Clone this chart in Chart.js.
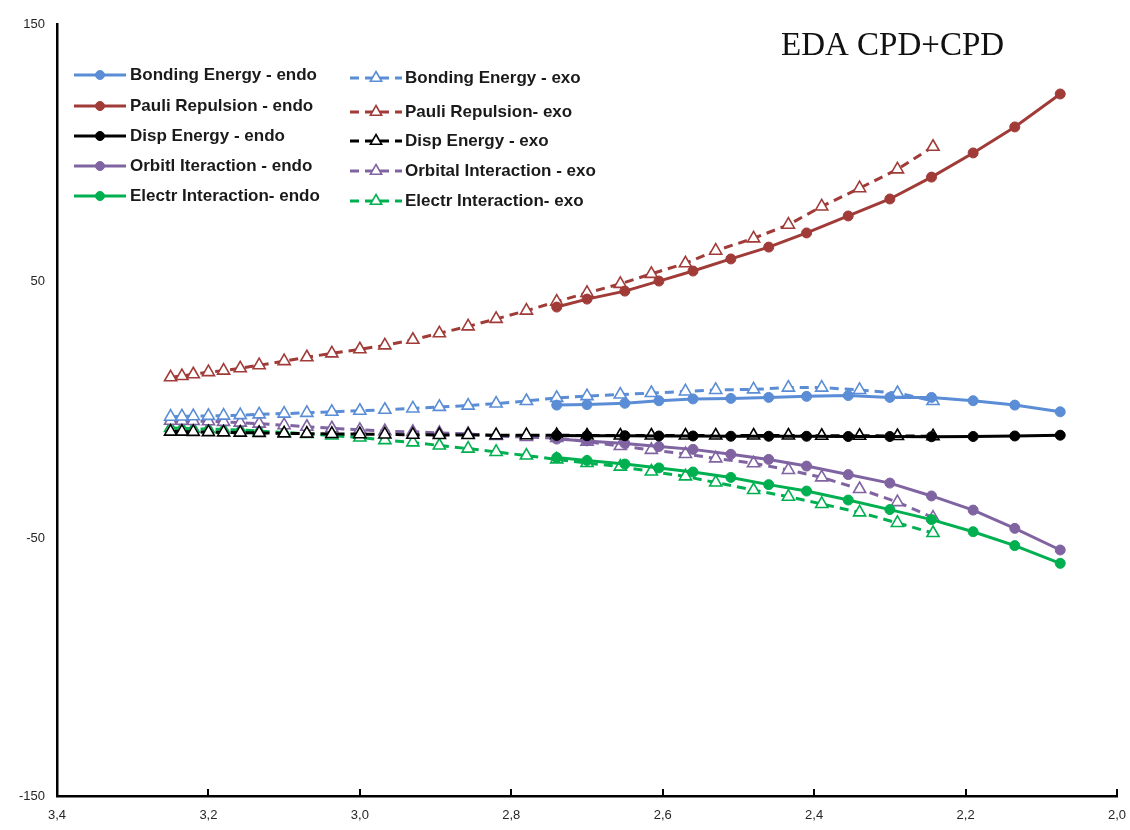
<!DOCTYPE html>
<html>
<head>
<meta charset="utf-8">
<script src="https://cdn.jsdelivr.net/npm/chart.js@4.4.1/dist/chart.umd.min.js"></script>
<style>
  html, body { margin: 0; padding: 0; background: #ffffff; }
  #wrap { width: 1130px; height: 830px; position: relative; }
</style>
</head>
<body>
<div id="wrap"><canvas id="eda" width="1130" height="830"></canvas></div>
<script>
// Interfragment distance (Å) for each computed geometry
const endoDistance = [2.74, 2.70, 2.65, 2.605, 2.56, 2.51, 2.46, 2.41, 2.355, 2.30, 2.245, 2.19, 2.135, 2.075];
const exoDistance = [3.25, 3.235, 3.22, 3.20, 3.18, 3.158, 3.133, 3.10, 3.07, 3.037, 3.00, 2.967, 2.93, 2.895,
                     2.857, 2.82, 2.78, 2.74, 2.70, 2.656, 2.615, 2.57, 2.53, 2.48, 2.434, 2.39, 2.34, 2.29, 2.243];

// Energy terms, endo approach (kcal/mol)
const bondingEndo = [1.9, 2.1, 2.6, 3.6, 4.3, 4.5, 4.9, 5.3, 5.6, 4.9, 4.9, 3.6, 1.9, -0.7];
const pauliEndo   = [40.0, 43.1, 46.2, 50.1, 54.0, 58.7, 63.3, 68.8, 75.4, 82.0, 90.5, 99.9, 110.0, 122.8];
const dispEndo    = [-9.9, -10.0, -10.0, -10.1, -10.1, -10.2, -10.2, -10.2, -10.3, -10.3, -10.4, -10.3, -10.1, -9.8];
const orbEndo     = [-11.3, -12.0, -13.0, -14.2, -15.3, -17.2, -19.2, -21.8, -25.1, -28.4, -33.4, -38.9, -46.0, -54.4];
const elecEndo    = [-18.5, -19.6, -21.0, -22.5, -24.1, -26.2, -29.0, -31.5, -35.0, -38.7, -42.6, -47.3, -52.7, -59.6];

// Energy terms, exo approach (kcal/mol)
const bondingExo = [-2.6, -2.5, -2.4, -2.3, -2.2, -2.0, -1.7, -1.4, -1.1, -0.7, -0.3, 0.1, 0.6, 1.2,
                    1.7, 2.5, 3.5, 4.7, 5.4, 6.0, 6.6, 7.2, 7.8, 8.0, 8.7, 8.7, 7.8, 6.6, 3.5];
const pauliExo   = [12.7, 13.2, 13.9, 14.7, 15.3, 16.2, 17.4, 19.0, 20.5, 22.0, 23.6, 25.1, 27.3, 29.8,
                    32.5, 35.4, 38.6, 42.1, 45.5, 49.0, 52.9, 57.0, 61.9, 66.7, 72.0, 79.1, 86.2, 93.5, 102.3];
const dispExo    = [-8.4, -8.4, -8.5, -8.6, -8.7, -8.8, -8.9, -9.1, -9.2, -9.3, -9.4, -9.5, -9.6, -9.7,
                    -9.7, -9.8, -9.8, -9.8, -9.9, -9.9, -9.9, -9.9, -9.9, -9.9, -9.9, -10.0, -10.0, -10.1, -10.2];
const orbExo     = [-4.2, -4.2, -4.3, -4.4, -4.6, -4.9, -5.3, -5.9, -6.5, -7.1, -7.7, -8.2, -8.5, -8.9,
                    -9.3, -10.1, -10.5, -10.9, -12.3, -14.0, -15.5, -17.1, -18.8, -20.7, -23.3, -26.2, -30.7, -35.8, -41.8];
const elecExo    = [-7.0, -7.1, -7.3, -7.4, -7.6, -7.8, -8.2, -8.7, -9.3, -9.9, -10.7, -11.7, -12.6, -13.8,
                    -15.0, -16.3, -17.7, -19.2, -20.6, -22.0, -23.9, -25.8, -28.2, -31.1, -33.7, -36.5, -39.8, -43.9, -47.8];

const endoLabels = ['Bonding Energy - endo', 'Pauli Repulsion - endo', 'Disp Energy - endo',
                    'Orbitl Iteraction - endo', 'Electr Interaction- endo'];
const exoLabels  = ['Bonding Energy - exo', 'Pauli Repulsion- exo', 'Disp Energy - exo',
                    'Orbital Interaction - exo', 'Electr Interaction- exo'];

const xTickValues = [3.4, 3.2, 3.0, 2.8, 2.6, 2.4, 2.2, 2.0];
const yTickValues = [150, 50, -50, -150];
const chartTitle = 'EDA CPD+CPD';

const seriesColors = ['#5A8DD6', '#A03B38', '#000000', '#8064A2', '#00B050'];

function pairs(xs, ys) { return xs.map((x, i) => ({ x: x, y: ys[i] })); }

const endoSeries = [bondingEndo, pauliEndo, dispEndo, orbEndo, elecEndo];
const exoSeries  = [bondingExo, pauliExo, dispExo, orbExo, elecExo];

const datasets = [];
endoSeries.forEach((vals, i) => {
  datasets.push({
    label: endoLabels[i],
    data: pairs(endoDistance, vals),
    borderColor: seriesColors[i],
    backgroundColor: seriesColors[i],
    pointBackgroundColor: seriesColors[i],
    pointBorderColor: seriesColors[i],
    borderWidth: 3,
    pointStyle: 'circle',
    pointRadius: 5,
    pointBorderWidth: 1,
    tension: 0,
    fill: false,
    legendColumn: 0,
    legendRow: i
  });
});
exoSeries.forEach((vals, i) => {
  datasets.push({
    label: exoLabels[i],
    data: pairs(exoDistance, vals),
    borderColor: seriesColors[i],
    backgroundColor: '#ffffff',
    pointBackgroundColor: '#ffffff',
    pointBorderColor: seriesColors[i],
    borderWidth: 3,
    borderDash: [9, 6],
    pointStyle: 'triangle',
    pointRadius: 7,
    pointBorderWidth: 1.6,
    tension: 0,
    fill: false,
    legendColumn: 1,
    legendRow: i
  });
});

// Two-column legend placed in the upper-left of the plot
const legendLayout = {
  columns: [
    { lineFrom: 74, lineTo: 126, textX: 130, rows: [75, 106, 136, 166, 196] },
    { lineFrom: 350, lineTo: 402, textX: 405, rows: [78, 112, 141, 171, 201] }
  ]
};

const twoColumnLegend = {
  id: 'twoColumnLegend',
  afterDraw(chart) {
    const ctx = chart.ctx;
    chart.data.datasets.forEach(ds => {
      const col = legendLayout.columns[ds.legendColumn];
      const y = col.rows[ds.legendRow];
      ctx.save();
      ctx.strokeStyle = ds.borderColor;
      ctx.lineWidth = ds.borderWidth;
      ctx.setLineDash(ds.borderDash || []);
      ctx.beginPath();
      ctx.moveTo(col.lineFrom, y);
      ctx.lineTo(col.lineTo, y);
      ctx.stroke();
      ctx.setLineDash([]);
      ctx.fillStyle = ds.pointBackgroundColor;
      ctx.strokeStyle = ds.pointBorderColor;
      ctx.lineWidth = ds.pointBorderWidth;
      Chart.helpers.drawPoint(ctx, {
        pointStyle: ds.pointStyle,
        radius: ds.pointStyle === 'circle' ? 4.5 : 6.5,
        rotation: 0,
        borderWidth: ds.pointBorderWidth
      }, (col.lineFrom + col.lineTo) / 2, y);
      ctx.fillStyle = '#1a1a1a';
      ctx.font = 'bold 17px "Liberation Sans", Arial, sans-serif';
      ctx.textBaseline = 'middle';
      ctx.textAlign = 'left';
      ctx.fillText(ds.label, col.textX, y);
      ctx.restore();
    });
  }
};

// Heading text and inward tick marks along the distance axis
const decorations = {
  id: 'decorations',
  afterDraw(chart) {
    const ctx = chart.ctx;
    const xs = chart.scales.x;
    const area = chart.chartArea;
    ctx.save();
    ctx.strokeStyle = '#000000';
    ctx.lineWidth = 2;
    xTickValues.forEach(v => {
      const px = Math.round(xs.getPixelForValue(v));
      ctx.beginPath();
      ctx.moveTo(px, area.bottom);
      ctx.lineTo(px, area.bottom - 7);
      ctx.stroke();
    });
    ctx.fillStyle = '#111111';
    ctx.font = '33px "Liberation Serif", "Times New Roman", serif';
    ctx.textBaseline = 'alphabetic';
    ctx.textAlign = 'left';
    ctx.fillText(chartTitle, 781, 55);
    ctx.restore();
  }
};

new Chart(document.getElementById('eda'), {
  type: 'line',
  data: { datasets: datasets },
  options: {
    responsive: false,
    animation: false,
    devicePixelRatio: 1,
    layout: { padding: { left: 0, right: 13, top: 24, bottom: 0 } },
    plugins: {
      legend: { display: false },
      title: { display: false },
      tooltip: { enabled: false }
    },
    scales: {
      x: {
        type: 'linear',
        reverse: true,
        min: 2.0,
        max: 3.4,
        afterBuildTicks(scale) { scale.ticks = xTickValues.map(v => ({ value: v })); },
        afterFit(scale) {
          scale.height = 34;
          scale.paddingLeft = 0;
          scale.paddingRight = 0;
        },
        grid: { display: false, drawTicks: false },
        border: { display: true, color: '#000000', width: 2.5 },
        ticks: {
          padding: 12,
          color: '#262626',
          font: { family: '"Liberation Sans", Arial, sans-serif', size: 13 },
          callback: v => Number(v).toFixed(1).replace('.', ','),
          maxRotation: 0,
          autoSkip: false
        }
      },
      y: {
        type: 'linear',
        min: -150,
        max: 150,
        afterBuildTicks(scale) { scale.ticks = yTickValues.map(v => ({ value: v })); },
        afterFit(scale) {
          scale.width = 57;
          scale.paddingTop = 0;
          scale.paddingBottom = 0;
        },
        grid: { display: false, drawTicks: false },
        border: { display: true, color: '#000000', width: 2.5 },
        ticks: {
          padding: 12,
          color: '#262626',
          font: { family: '"Liberation Sans", Arial, sans-serif', size: 13 },
          autoSkip: false
        }
      }
    }
  },
  plugins: [twoColumnLegend, decorations]
});
</script>
</body>
</html>
